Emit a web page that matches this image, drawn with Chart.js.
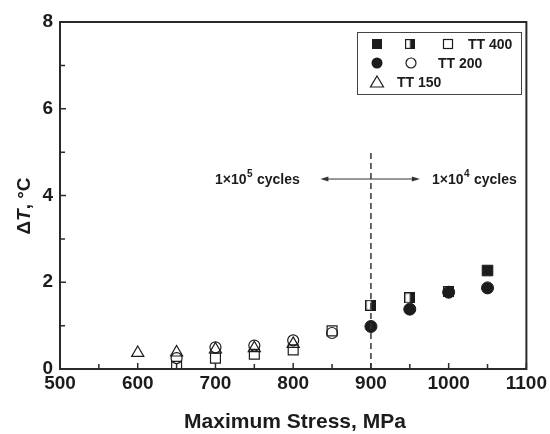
<!DOCTYPE html>
<html><head><meta charset="utf-8">
<script src="https://cdn.jsdelivr.net/npm/chart.js@4/dist/chart.umd.min.js"></script>
<style>html,body{margin:0;padding:0;background:#fff}#wrap{width:550px;height:434px}</style>
</head><body><div id="wrap"><canvas id="c" width="550" height="434"></canvas></div>
<script>
// ---- data ----
const tt400OpenX = [650, 700, 750, 800, 850];
const tt400Open = [0.06, 0.25, 0.34, 0.44, 0.88];
const tt400HalfX = [900, 950, 1000];
const tt400Half = [1.47, 1.64, 1.79];
const tt400FilledX = [1050];
const tt400Filled = [2.27];
const tt200OpenX = [650, 700, 750, 800, 850];
const tt200Open = [0.25, 0.50, 0.54, 0.66, 0.83];
const tt200FilledX = [900, 950, 1000, 1050];
const tt200Filled = [0.98, 1.38, 1.77, 1.87];
const tt150X = [600, 650, 700, 750, 800];
const tt150 = [0.37, 0.38, 0.45, 0.48, 0.58];
const xTickValues = [500, 600, 700, 800, 900, 1000, 1100];
const xMinorValues = [550, 650, 750, 850, 950, 1050];
const yTickValues = [0, 2, 4, 6, 8];
const yMinorValues = [1, 3, 5, 7];
const dividerStress = 900;
const dividerTop = 5;
const arrowLevel = 4.38;
const arrowFrom = 835;
const arrowTo = 963;
const legendLabels = ['TT 400', 'TT 200', 'TT 150'];
const xTitle = 'Maximum Stress, MPa';

const INK = '#1c1c1c';
const FAM = '"Liberation Sans", Arial, sans-serif';
function pts(xs, ys) { return xs.map((x, i) => ({ x: x, y: ys[i] })); }

// half-filled square marker (left open, right filled)
function halfSquare(size) {
  const c = document.createElement('canvas');
  c.width = size; c.height = size;
  const g = c.getContext('2d');
  g.fillStyle = '#fff'; g.fillRect(0, 0, size, size);
  g.fillStyle = INK; g.fillRect(size / 2, 0, size / 2, size);
  g.strokeStyle = INK; g.lineWidth = 1.2; g.strokeRect(0.6, 0.6, size - 1.2, size - 1.2);
  return c;
}
const halfImg = halfSquare(11);

const decor = {
  id: 'decor',
  afterDraw(chart) {
    const ctx = chart.ctx, a = chart.chartArea;
    const xs = chart.scales.x, ys = chart.scales.y;
    ctx.save();
    // plot frame
    ctx.strokeStyle = '#2a2a2a'; ctx.lineWidth = 2;
    ctx.strokeRect(a.left, a.top, a.right - a.left, a.bottom - a.top);
    // inward ticks
    ctx.lineWidth = 1.5;
    ctx.beginPath();
    xTickValues.forEach(v => { const p = xs.getPixelForValue(v); ctx.moveTo(p, a.bottom); ctx.lineTo(p, a.bottom - 6); });
    xMinorValues.forEach(v => { const p = xs.getPixelForValue(v); ctx.moveTo(p, a.bottom); ctx.lineTo(p, a.bottom - 5); });
    yTickValues.forEach(v => { const p = ys.getPixelForValue(v); ctx.moveTo(a.left, p); ctx.lineTo(a.left + 6, p); });
    yMinorValues.forEach(v => { const p = ys.getPixelForValue(v); ctx.moveTo(a.left, p); ctx.lineTo(a.left + 5, p); });
    ctx.stroke();

    // dashed divider
    const dx = xs.getPixelForValue(dividerStress);
    ctx.strokeStyle = '#333'; ctx.lineWidth = 1.5; ctx.setLineDash([6, 4]);
    ctx.beginPath(); ctx.moveTo(dx, ys.getPixelForValue(0)); ctx.lineTo(dx, ys.getPixelForValue(dividerTop)); ctx.stroke();
    ctx.setLineDash([]);
    // double arrow
    const ay = ys.getPixelForValue(arrowLevel);
    const ax1 = xs.getPixelForValue(arrowFrom), ax2 = xs.getPixelForValue(arrowTo);
    ctx.lineWidth = 1; ctx.strokeStyle = '#333'; ctx.fillStyle = '#333';
    ctx.beginPath(); ctx.moveTo(ax1 + 3, ay); ctx.lineTo(ax2 - 3, ay); ctx.stroke();
    ctx.beginPath(); ctx.moveTo(ax1, ay); ctx.lineTo(ax1 + 8, ay - 2.5); ctx.lineTo(ax1 + 8, ay + 2.5); ctx.closePath(); ctx.fill();
    ctx.beginPath(); ctx.moveTo(ax2, ay); ctx.lineTo(ax2 - 8, ay - 2.5); ctx.lineTo(ax2 - 8, ay + 2.5); ctx.closePath(); ctx.fill();
    // cycle labels
    function cycles(x, exp) {
      ctx.fillStyle = INK; ctx.textBaseline = 'alphabetic'; ctx.textAlign = 'left';
      ctx.font = 'bold 14px ' + FAM;
      ctx.fillText('1×10', x, ay + 5);
      let w = ctx.measureText('1×10').width;
      ctx.font = 'bold 10px ' + FAM;
      ctx.fillText(exp, x + w + 0.5, ay - 2);
      const w2 = ctx.measureText(exp).width;
      ctx.font = 'bold 14px ' + FAM;
      ctx.fillText(' cycles', x + w + w2 + 1, ay + 5);
    }
    cycles(215, '5');
    cycles(432, '4');

    // legend
    ctx.strokeStyle = '#444'; ctx.lineWidth = 1;
    ctx.strokeRect(357.5, 32.5, 164, 62);
    ctx.fillStyle = INK; ctx.strokeStyle = INK; ctx.lineWidth = 1.2;
    const r1 = 44, r2 = 63, r3 = 82;
    ctx.fillRect(372, r1 - 5, 10, 10);
    ctx.drawImage(halfImg, 405, r1 - 5, 10, 10);
    ctx.strokeRect(443.5, r1 - 4.5, 9, 9);
    ctx.beginPath(); ctx.arc(377, r2, 5.5, 0, Math.PI * 2); ctx.fill();
    ctx.beginPath(); ctx.arc(411, r2, 5, 0, Math.PI * 2); ctx.stroke();
    ctx.beginPath(); ctx.moveTo(377, r3 - 6); ctx.lineTo(383.5, r3 + 5); ctx.lineTo(370.5, r3 + 5); ctx.closePath(); ctx.stroke();
    ctx.font = 'bold 14px ' + FAM;
    ctx.textBaseline = 'middle'; ctx.textAlign = 'left';
    ctx.fillText(legendLabels[0], 468, r1 + 1);
    ctx.fillText(legendLabels[1], 438, r2 + 1);
    ctx.fillText(legendLabels[2], 397, r3 + 1);

    // axis titles
    ctx.textAlign = 'center'; ctx.textBaseline = 'middle';
    ctx.font = 'bold 21px ' + FAM;
    ctx.fillText(xTitle, 295, 422);
    ctx.save();
    ctx.translate(25, 206); ctx.rotate(-Math.PI / 2);
    const fB = 'bold 19px ' + FAM;
    const fI = 'italic bold 19px ' + FAM;
    const parts = [['Δ', fB], ['T', fI], [', °C', fB]];
    let tot = 0;
    parts.forEach(p => { ctx.font = p[1]; tot += ctx.measureText(p[0]).width; });
    let px = -tot / 2;
    ctx.textAlign = 'left';
    parts.forEach(p => { ctx.font = p[1]; ctx.fillText(p[0], px, 0); px += ctx.measureText(p[0]).width; });
    ctx.restore();
    ctx.restore();
  }
};

const openStyle = { backgroundColor: 'rgba(0,0,0,0)', borderColor: INK, borderWidth: 1.2 };
const fillStyle = { backgroundColor: INK, borderColor: INK, borderWidth: 1 };

new Chart(document.getElementById('c'), {
  type: 'scatter',
  data: {
    datasets: [
      Object.assign({ label: 'TT 150', data: pts(tt150X, tt150), pointStyle: 'triangle', pointRadius: 7 }, openStyle),
      Object.assign({ label: 'TT 400 open', data: pts(tt400OpenX, tt400Open), pointStyle: 'rect', pointRadius: 7 }, openStyle),
      Object.assign({ label: 'TT 200 open', data: pts(tt200OpenX, tt200Open), pointStyle: 'circle', pointRadius: 5.5 }, openStyle),
      Object.assign({ label: 'TT 200 filled', data: pts(tt200FilledX, tt200Filled), pointStyle: 'circle', pointRadius: 6 }, fillStyle),
      { label: 'TT 400 half', data: pts(tt400HalfX, tt400Half), pointStyle: halfImg, pointRadius: 6 },
      Object.assign({ label: 'TT 400 filled', data: pts(tt400FilledX, tt400Filled), pointStyle: 'rect', pointRadius: 7.5 }, fillStyle)
    ]
  },
  options: {
    responsive: false,
    devicePixelRatio: 1,
    animation: false,
    layout: { padding: { top: 22, right: 21, left: 0, bottom: 0 } },
    plugins: { legend: { display: false }, tooltip: { enabled: false } },
    scales: {
      x: {
        type: 'linear', min: 500, max: 1100,
        afterBuildTicks: s => { s.ticks = xTickValues.map(v => ({ value: v })); },
        ticks: { font: { family: FAM, size: 19, weight: 'bold' }, color: INK, padding: 3, maxRotation: 0, autoSkip: false, callback: v => String(v) },
        grid: { display: false, drawTicks: false },
        border: { display: false },
        afterFit: s => { s.height = 65; }
      },
      y: {
        type: 'linear', min: 0, max: 8,
        afterBuildTicks: s => { s.ticks = yTickValues.map(v => ({ value: v })); },
        ticks: { font: { family: FAM, size: 19, weight: 'bold' }, color: INK, padding: 7, callback: v => String(v) },
        grid: { display: false, drawTicks: false },
        border: { display: false },
        afterFit: s => { s.width = 60; }
      }
    }
  },
  plugins: [decor]
});
</script>
</body></html>
